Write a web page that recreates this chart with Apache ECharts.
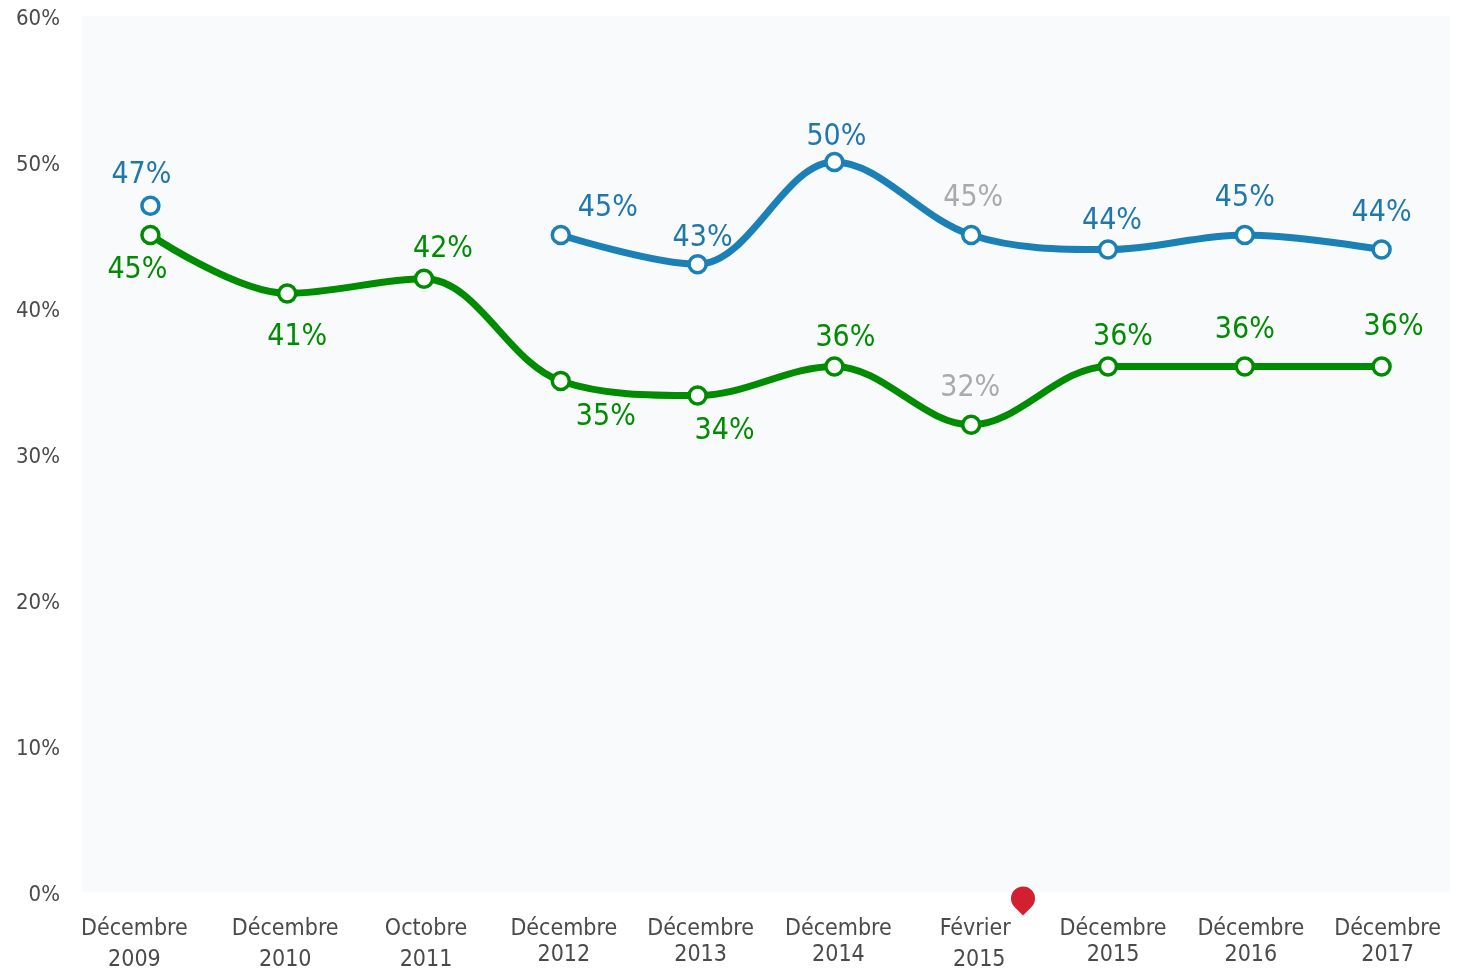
<!DOCTYPE html>
<html>
<head>
<meta charset="utf-8">
<style>
html,body{margin:0;padding:0;background:#fff;}
#container{width:1457px;height:973px;}
</style>
<script src="https://cdn.jsdelivr.net/npm/echarts@6/dist/echarts.min.js"></script>
</head>
<body>
<div id="container"></div>
<script>
var months = ['Décembre','Décembre','Octobre','Décembre','Décembre','Décembre','Février','Décembre','Décembre','Décembre'];
var years = ['2009','2010','2011','2012','2013','2014','2015','2015','2016','2017'];
var blueValues = [47,null,null,45,43,50,45,44,45,44];
var greenValues = [45,41,42,35,34,36,32,36,36,36];
var yTicks = [0,10,20,30,40,50,60];

// decalages a la main, les libelles ne sont pas centres dans l'original
var blueOffsets = [[-9,-31],null,null,[47,-27],[5,-26],[2,-25],[2,-37],[4,-28],[0,-37],[0,-36]];
var greenOffsets = [[-13,35],[10,44],[19,-30],[45,36],[27,36],[11,-28],[-1,-37],[15,-29],[0,-36],[12,-39]];
var monthShift = [-16,-2,2,3,3,4,4,5,6,6];
var yearShift = [-16,-2,2,3,3,4,8,5,6,6];
var yearLine = [32,32,32,22,22,22,32,22,22,22];
var grayIndex = 6;
var fontName = 'DejaVu Sans Condensed';

var richStyles = {};
months.forEach(function(m,i){
	richStyles['m'+i] = {
		fontSize:23, color:'#4a4a4a', fontFamily:fontName, lineHeight:30,
		padding: monthShift[i]>0 ? [0,0,0,monthShift[i]*2] : [0,-monthShift[i]*2,0,0]
	};
	richStyles['y'+i] = {
		fontSize:23, color:'#4a4a4a', fontFamily:fontName, lineHeight:yearLine[i],
		padding: yearShift[i]>0 ? [0,0,0,yearShift[i]*2] : [0,-yearShift[i]*2,0,0]
	};
});

function buildData(values,offsets,color){
	return values.map(function(v,i){
		if(v===null) return null;
		return {
			value:v,
			label:{
				show:true,
				position:'inside',
				offset:offsets[i],
				color: i==grayIndex ? '#aaaaaa' : color
			}
		};
	});
}

function lineSeries(name,values,offsets,lineColor,labelColor){
	return {
		name:name,
		type:'line',
		smooth:0.35,
		showAllSymbol:true,
		symbol:'circle',
		symbolSize:17,
		connectNulls:false,
		lineStyle:{color:lineColor,width:7},
		itemStyle:{color:'#fff',borderColor:lineColor,borderWidth:3.5},
		label:{
			fontSize:30,
			fontFamily:fontName,
			formatter:'{c}%'
		},
		data:buildData(values,offsets,labelColor)
	};
}

var myChart = echarts.init(document.getElementById('container'));
var series = [
	lineSeries('Bleu',blueValues,blueOffsets,'#1a80b6','#1f77ae'),
	lineSeries('Vert',greenValues,greenOffsets,'#008c00','#008c00')
];
// le repere rouge sous l'axe
series[0].markPoint = {
	silent:true,
	symbol:'path://M12 0A12 12 0 0 1 20.5 20.5L12 29L3.5 20.5A12 12 0 0 1 12 0Z',
	symbolSize:[24,29],
	itemStyle:{color:'#d32031'},
	label:{show:false},
	data:[{x:1023,y:901}]
};

var option = {
	animation:false,
	backgroundColor:'#fff',
	grid:{
		show:true,
		left:82,right:7,top:16,bottom:81,
		backgroundColor:'#f8fafc',
		borderWidth:0
	},
	xAxis:{
		type:'category',
		data:months.map(function(m,i){return i;}),
		boundaryGap:true,
		axisLine:{show:false},
		axisTick:{show:false},
		splitLine:{show:false},
		axisLabel:{
			interval:0,
			margin:22,
			hideOverlap:false,
			formatter:function(v,i){
				return '{m'+i+'|'+months[i]+'}\n{y'+i+'|'+years[i]+'}';
			},
			rich:richStyles
		}
	},
	yAxis:{
		type:'value',
		min:yTicks[0],
		max:yTicks[yTicks.length-1],
		interval:10,
		axisLine:{show:false},
		axisTick:{show:false},
		splitLine:{show:false},
		axisLabel:{
			margin:22,
			fontSize:22,
			fontFamily:fontName,
			color:'#4a4a4a',
			verticalAlign:'top',
			lineHeight:6,
			formatter:'{value}%'
		}
	},
	series:series
};
myChart.setOption(option,true);
</script>
</body>
</html>
